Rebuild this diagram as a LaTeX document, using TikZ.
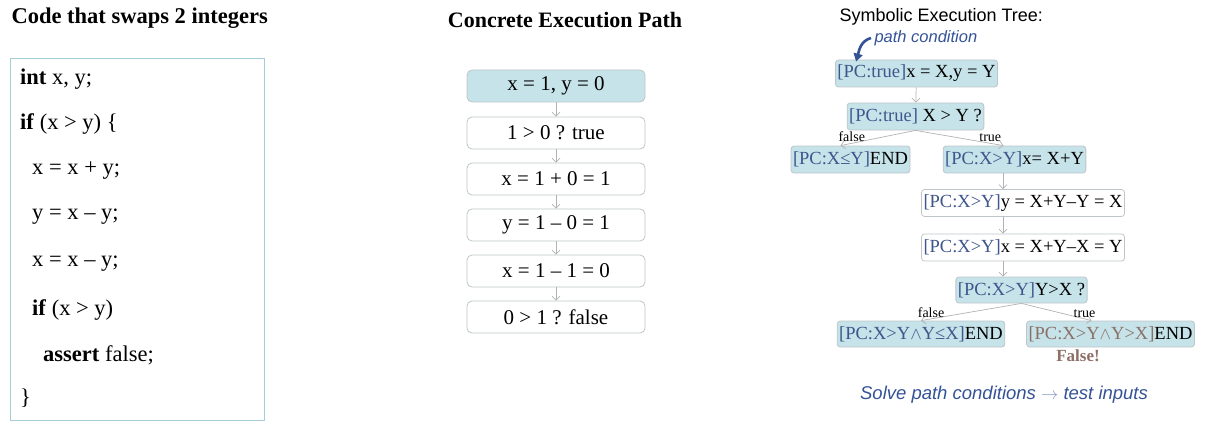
\documentclass[tikz,border=0pt]{standalone}
\usepackage{fontspec}
\setmainfont{Liberation Serif}
\setsansfont{Liberation Sans}
\usetikzlibrary{arrows.meta}
\definecolor{boxblue}{RGB}{197,227,233}
\definecolor{codeborder}{RGB}{165,205,215}
\definecolor{boxgray}{RGB}{190,198,202}
\definecolor{pcblue}{RGB}{62,86,140}
\definecolor{labelblue}{RGB}{52,82,150}
\definecolor{brownish}{RGB}{140,112,102}
\newcommand{\pc}[1]{\textcolor{pcblue}{#1}}

\begin{document}
\begin{tikzpicture}[x=1pt, y=-1pt]
    \tikzstyle{title_style} = [font=\fontsize{22.5}{26}\selectfont\bfseries]
    \tikzstyle{code_style} = [anchor=west, inner sep=0pt, font=\fontsize{22.5}{26}\selectfont]
    \tikzstyle{path_box} = [draw=boxgray, line width=0.8pt, rounded corners=5pt, minimum width=178pt, minimum height=32pt, inner sep=0pt, font=\fontsize{21}{25}\selectfont]
    \tikzstyle{tree_box} = [draw=boxgray, line width=0.8pt, rounded corners=3pt, minimum height=27pt, inner sep=2pt, font=\fontsize{18.5}{22}\selectfont]
    \tikzstyle{tree_fill} = [tree_box, fill=boxblue]
    \tikzstyle{link_style} = [-{Straight Barb[length=4pt, width=8pt]}, line width=0.7pt, gray!60]
    \tikzstyle{branch_label} = [font=\fontsize{14}{16}\selectfont, text=black, inner sep=1pt]

    \useasboundingbox (0,0) rectangle (1214,425);

    % code that swaps
    \begin{scope}
        \node[title_style, anchor=west] (code_title) at (8,18) {Code that swaps 2 integers};
        \node[draw=codeborder, line width=1pt, minimum width=254pt, minimum height=361pt] (code_box) at (137,239.5) {};
        \node[code_style] (l1) at (20,79) {\textbf{int} x, y;};
        \node[code_style] (l2) at (20,124) {\textbf{if} (x > y) \{};
        \node[code_style] (l3) at (32,171) {x = x + y;};
        \node[code_style] (l4) at (32,217) {y = x – y;};
        \node[code_style] (l5) at (32,264) {x = x – y;};
        \node[code_style] (l6) at (32,310) {\textbf{if} (x > y)};
        \node[code_style] (l7) at (43,355) {\textbf{assert} false;};
        \node[code_style] (l8) at (20,398) {\}};
    \end{scope}

    % concrete execution
    \begin{scope}
        \node[title_style, font=\fontsize{22}{26}\selectfont\bfseries] (path_title) at (565,20) {Concrete Execution Path};
        \node[path_box, fill=boxblue] (c1) at (556,86) {x = 1, y = 0};
        \node[path_box] (c2) at (556,133) {1 > 0 ? true};
        \node[path_box] (c3) at (556,179) {x = 1 + 0 = 1};
        \node[path_box] (c4) at (556,225) {y = 1 – 0 = 1};
        \node[path_box] (c5) at (556,271) {x = 1 – 1 = 0};
        \node[path_box] (c6) at (556,317) {0 > 1 ? false};
        \foreach \a/\b in {c1/c2, c2/c3, c3/c4, c4/c5, c5/c6}
            \draw[link_style] (\a) -- (\b);
    \end{scope}

    % symbolic execution tree
    \begin{scope}
        \node[font=\sffamily\fontsize{18}{21}\selectfont, anchor=west] (tree_title) at (836,17) {Symbolic Execution Tree:};
        \node[font=\sffamily\itshape\fontsize{16.5}{20}\selectfont, text=labelblue, anchor=west] (pc_label) at (871,38) {path condition};

        \node[tree_fill] (n1) at (916.5,73.5) {\pc{[PC:true]}x = X,y = Y};
        \node[tree_fill] (n2) at (915.5,116.5) {\pc{[PC:true]} X > Y ?};
        \node[tree_fill] (n3) at (850.5,159.5) {\pc{[PC:X≤Y]}END};
        \node[tree_fill] (n4) at (1014.5,159.5) {\pc{[PC:X>Y]}x= X+Y};
        \node[tree_box, fill=white] (n5) at (1023,203) {\pc{[PC:X>Y]}y = X+Y–Y = X};
        \node[tree_box, fill=white] (n6) at (1023,247.5) {\pc{[PC:X>Y]}x = X+Y–X = Y};
        \node[tree_fill, minimum height=26pt] (n7) at (1021.5,290) {\pc{[PC:X>Y]}Y>X ?};
        \node[tree_fill, minimum height=26pt] (n8) at (921,334) {\pc{[PC:X>Y$\wedge$Y≤X]}END};
        \node[tree_fill, minimum height=26pt] (n9) at (1110.5,334) {\textcolor{brownish}{[PC:X>Y$\wedge$Y>X]}END};
        \node[font=\fontsize{17}{20}\selectfont\bfseries, text=brownish] (false_note) at (1078,356) {False!};

        \coordinate (col) at (1003,0);
        \draw[link_style] (n1) -- (n2);
        \draw[link_style] (n2.south) -- ([xshift=-10pt]n3.north) node[branch_label, pos=0.85, above] {false};
        \draw[link_style] (n2.south) -- ([xshift=-11pt]n4.north) node[branch_label, pos=0.85, above] {true};
        \draw[link_style] (n4.south -| col) -- (n5.north -| col);
        \draw[link_style] (n5.south -| col) -- (n6.north -| col);
        \draw[link_style] (n6.south -| col) -- (n7.north -| col);
        \draw[link_style] (n7.south) -- (n8.north) node[branch_label, pos=0.9, above] {false};
        \draw[link_style] (n7.south) -- ([xshift=-19pt]n9.north) node[branch_label, pos=0.9, above] {true};

        \draw[-{Triangle[length=8pt, width=9pt]}, line width=2.6pt, labelblue] (pc_label.west) to[out=195, in=75] ([xshift=21pt, yshift=-2pt]n1.north west);

        \node[font=\sffamily\itshape\fontsize{18.5}{22}\selectfont, text=labelblue] (solve_note) at (1004,395) {Solve path conditions \textcolor{labelblue!60}{$\rightarrow$} test inputs};
    \end{scope}
\end{tikzpicture}
\end{document}
